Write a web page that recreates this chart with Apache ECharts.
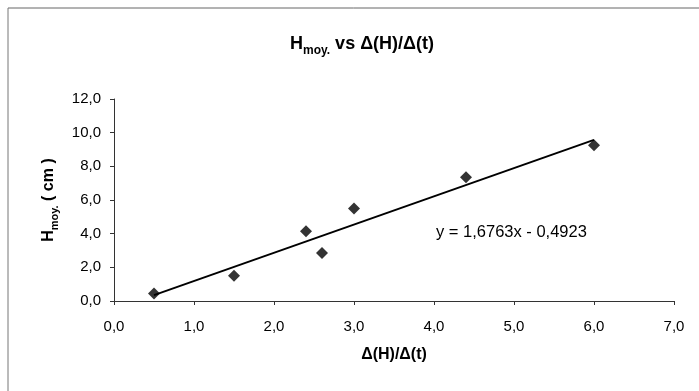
<!DOCTYPE html>
<html>
<head>
<meta charset="utf-8">
<script src="https://cdn.jsdelivr.net/npm/echarts@6/dist/echarts.min.js"></script>
<style>
html,body{margin:0;padding:0;background:#fff;}
#chart{width:699px;height:391px;}
</style>
</head>
<body>
<div id="chart"></div>
<script>
// Data
const xValues = [0.5, 1.5, 2.4, 2.6, 3.0, 4.4, 6.0];
const yValues = [0.45, 1.5, 4.15, 2.85, 5.5, 7.35, 9.25];
const trendX = [0.5, 6.0];
const trendY = [0.35, 9.57];
const equationText = 'y = 1,6763x - 0,4923';
const xTicks = {min: 0, max: 7, interval: 1};
const yTicks = {min: 0, max: 12, interval: 2};

const FONT = "'Liberation Sans', Arial, Helvetica, sans-serif";
const fmt = v => v.toFixed(1).replace('.', ',');

const chart = echarts.init(document.getElementById('chart'), null, {renderer: 'canvas'});
chart.setOption({
  backgroundColor: '#fff',
  animation: false,
  title: {
    text: '{a|H}{s|moy.}{a| vs Δ(H)/Δ(t)}',
    left: 357,
    top: 26,
    textAlign: 'center',
    textStyle: {
      rich: {
        a: {fontFamily: FONT, fontWeight: 'bold', fontSize: 18, color: '#000', lineHeight: 22, verticalAlign: 'bottom'},
        s: {fontFamily: FONT, fontWeight: 'bold', fontSize: 12, color: '#000', lineHeight: 15, verticalAlign: 'bottom', padding: [0, 0, -4, 0]}
      }
    }
  },
  grid: {left: 114, right: 25, top: 99, bottom: 90, containLabel: false},
  xAxis: {
    type: 'value',
    min: xTicks.min, max: xTicks.max, interval: xTicks.interval,
    name: 'Δ(H)/Δ(t)',
    nameLocation: 'middle',
    nameGap: 46,
    nameTextStyle: {fontFamily: FONT, fontWeight: 'bold', fontSize: 16, color: '#000'},
    axisLine: {show: true, onZero: false, lineStyle: {color: '#333', width: 1}},
    axisTick: {show: true, inside: false, length: 4, lineStyle: {color: '#333'}},
    axisLabel: {fontFamily: FONT, fontSize: 15, color: '#000', margin: 18, formatter: fmt},
    splitLine: {show: false}
  },
  yAxis: {
    type: 'value',
    min: yTicks.min, max: yTicks.max, interval: yTicks.interval,
    name: '{a|H}{s|moy.}{a| ( cm )}',
    nameLocation: 'middle',
    nameGap: 54,
    nameRotate: 90,
    nameTextStyle: {
      rich: {
        a: {fontFamily: FONT, fontWeight: 'bold', fontSize: 16, color: '#000', lineHeight: 19, verticalAlign: 'bottom'},
        s: {fontFamily: FONT, fontWeight: 'bold', fontSize: 11, color: '#000', lineHeight: 14, verticalAlign: 'bottom', padding: [0, 0, -4, 0]}
      }
    },
    axisLine: {show: true, onZero: false, lineStyle: {color: '#333', width: 1}},
    axisTick: {show: true, inside: false, length: 4, lineStyle: {color: '#333'}},
    axisLabel: {fontFamily: FONT, fontSize: 15, color: '#000', margin: 13, formatter: fmt},
    splitLine: {show: false}
  },
  series: [
    {
      type: 'line',
      data: trendX.map((x, i) => [x, trendY[i]]),
      showSymbol: false,
      symbol: 'none',
      lineStyle: {color: '#000', width: 2},
      z: 2
    },
    {
      type: 'scatter',
      data: xValues.map((x, i) => [x, yValues[i]]),
      symbol: 'diamond',
      symbolSize: 12,
      itemStyle: {color: '#000'},
      z: 3
    }
  ],
  graphic: [
    {type: 'line', shape: {x1: 8, y1: 8, x2: 699, y2: 8}, style: {stroke: '#666', lineWidth: 1}},
    {type: 'line', shape: {x1: 8, y1: 8, x2: 8, y2: 391}, style: {stroke: '#777', lineWidth: 1}},
    {
      type: 'text',
      x: 436, y: 232,
      style: {text: equationText, font: '16.5px ' + FONT, fill: '#000', textVerticalAlign: 'middle', verticalAlign: 'middle'}
    }
  ]
});
</script>
</body>
</html>
